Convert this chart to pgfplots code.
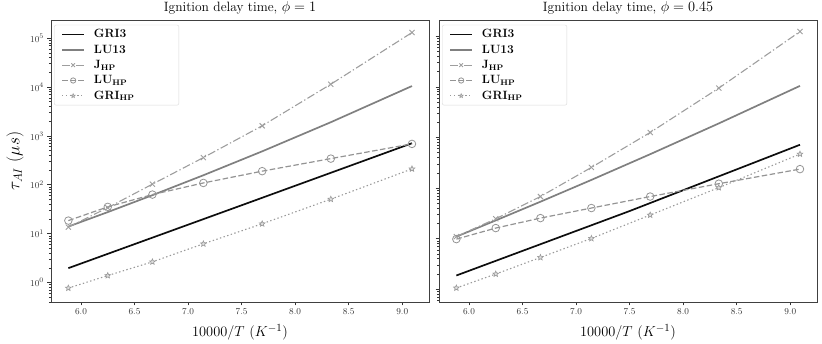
\documentclass[border=0pt]{standalone}
\usepackage{pgfplots}
\pgfplotsset{compat=1.18}

% grey levels of the series
\definecolor{cGRI}{gray}{0.05}
\definecolor{cLU}{gray}{0.50}
\definecolor{cJ}{gray}{0.62}
\definecolor{cLUHP}{gray}{0.58}
\definecolor{cGRIHP}{gray}{0.60}

% five-pointed star, filled and outlined
\pgfdeclareplotmark{fstar}{%
  \pgfpathmoveto{\pgfqpointpolar{90}{\pgfplotmarksize}}%
  \pgfpathlineto{\pgfqpointpolar{126}{0.45\pgfplotmarksize}}%
  \pgfpathlineto{\pgfqpointpolar{162}{\pgfplotmarksize}}%
  \pgfpathlineto{\pgfqpointpolar{198}{0.45\pgfplotmarksize}}%
  \pgfpathlineto{\pgfqpointpolar{234}{\pgfplotmarksize}}%
  \pgfpathlineto{\pgfqpointpolar{270}{0.45\pgfplotmarksize}}%
  \pgfpathlineto{\pgfqpointpolar{306}{\pgfplotmarksize}}%
  \pgfpathlineto{\pgfqpointpolar{342}{0.45\pgfplotmarksize}}%
  \pgfpathlineto{\pgfqpointpolar{18}{\pgfplotmarksize}}%
  \pgfpathlineto{\pgfqpointpolar{54}{0.45\pgfplotmarksize}}%
  \pgfpathclose
  \pgfusepathqfillstroke}

\pgfplotsset{
  idt/.style={
    width=378pt, height=282pt, scale only axis,
    xmin=5.72, xmax=9.25,
    xtick={6.0,6.5,...,9.0},
    xticklabel style={/pgf/number format/fixed, /pgf/number format/fixed zerofill, /pgf/number format/precision=1},
    tick label style={font=\fontsize{9.5}{11}\selectfont, color=black!80},
    tick align=outside, xtick pos=bottom, ytick pos=left,
    major tick length=3.5pt, minor tick length=2pt,
    every tick/.style={black!80, line width=0.6pt},
    axis line style={black!75, line width=0.8pt},
    title style={font=\fontsize{13.5}{15}\selectfont, yshift=-4pt},
    xlabel={$10000/T\ (K^{-1})$},
    xlabel style={font=\fontsize{15.5}{18}\selectfont, yshift=-2.5pt},
    legend cell align=left,
    legend style={at={(axis description cs:0.008,0.983)}, anchor=north west,
      draw=black!15, rounded corners=2pt, fill=white,
      font=\fontsize{12}{13}\selectfont\bfseries,
      row sep=1.6pt, inner xsep=3pt, inner ysep=2.5pt},
    legend image code/.code={%
      \path (-0.04cm,0cm) (1.12cm,0cm);
      \draw[mark repeat=2,mark phase=2,every mark/.append style={scale=0.7},##1] plot coordinates {(0.1cm,0cm) (0.49cm,0cm) (0.88cm,0cm)};},
  },
  sGRI/.style={cGRI, line width=1.7pt, no marks},
  sLU/.style={cLU, line width=1.7pt, no marks},
  sJ/.style={cJ, line width=1.1pt, dash pattern=on 8pt off 2.5pt on 1.3pt off 2.5pt, mark=x, mark size=3.6pt, mark options={solid, line width=0.9pt}},
  sLUHP/.style={cLUHP, line width=1.2pt, dash pattern=on 5.5pt off 2.5pt, mark=o, mark size=3.8pt, mark options={solid, fill=white, line width=0.8pt}},
  sGRIHP/.style={cGRIHP, line width=1.1pt, dash pattern=on 1.4pt off 2.4pt, mark=fstar, mark size=3pt, mark options={solid, fill=black!12, line width=0.6pt}},
}

\begin{document}
\begin{tikzpicture}
\useasboundingbox (-51pt,-42pt) rectangle (771pt,302pt);

% phi = 1
\begin{semilogyaxis}[idt, at={(0pt,0pt)}, anchor=south west,
    ymin=0.40, ymax=2.35e5,
    title={Ignition delay time, $\phi = 1$},
    ylabel={$\tau_{AI}\ (\mu s)$},
    ylabel style={font=\fontsize{17.5}{19}\selectfont, at={(axis description cs:-0.095,0.5)}, anchor=center},
]
\addplot[sGRI] coordinates {(5.882,1.97) (7.51,38.8) (9.091,708)};
\addlegendentry{GRI3}
\addplot[sLU] coordinates {(5.882,13.96) (6.25,27.6) (6.667,61.2) (7.143,156.7) (7.692,483) (8.333,1905) (9.091,10470)};
\addlegendentry{LU13}
\addplot[sJ] coordinates {(5.882,13.6) (6.25,34) (6.667,103) (7.143,360) (7.692,1610) (8.333,11400) (9.091,130000)};
\addlegendentry{$\mathbf{J_{HP}}$}
\addplot[sLUHP] coordinates {(5.882,18.5) (6.25,35.3) (6.667,63) (7.143,109) (7.692,190) (8.333,343) (9.091,686)};
\addlegendentry{$\mathbf{LU_{HP}}$}
\addplot[sGRIHP] coordinates {(5.882,0.77) (6.25,1.39) (6.667,2.65) (7.143,6.2) (7.692,15.9) (8.333,50.7) (9.091,211)};
\addlegendentry{\makebox[80pt][l]{$\mathbf{GRI_{HP}}$}}
\end{semilogyaxis}

% phi = 0.45
\begin{semilogyaxis}[idt, at={(388pt,0pt)}, anchor=south west,
    ymin=0.56, ymax=2.1e5,
    yticklabels={},
    title={Ignition delay time, $\phi = 0.45$},
]
\addplot[sGRI] coordinates {(5.882,1.87) (7.49,34.5) (9.091,718)};
\addlegendentry{GRI3}
\addplot[sLU] coordinates {(5.882,10.96) (6.25,22.96) (6.667,53.7) (7.143,144.9) (7.692,467) (8.333,1897) (9.091,10470)};
\addlegendentry{LU13}
\addplot[sJ] coordinates {(5.882,11) (6.25,24.7) (6.667,68) (7.143,256) (7.692,1255) (8.333,9460) (9.091,124000)};
\addlegendentry{$\mathbf{J_{HP}}$}
\addplot[sLUHP] coordinates {(5.882,9.8) (6.25,16.2) (6.667,25.5) (7.143,40.3) (7.692,68) (8.333,122) (9.091,237)};
\addlegendentry{$\mathbf{LU_{HP}}$}
\addplot[sGRIHP] coordinates {(5.882,1.06) (6.25,2.0) (6.667,4.25) (7.143,10.1) (7.692,29.3) (8.333,102) (9.091,470)};
\addlegendentry{\makebox[80pt][l]{$\mathbf{GRI_{HP}}$}}
\end{semilogyaxis}
\end{tikzpicture}
\end{document}
